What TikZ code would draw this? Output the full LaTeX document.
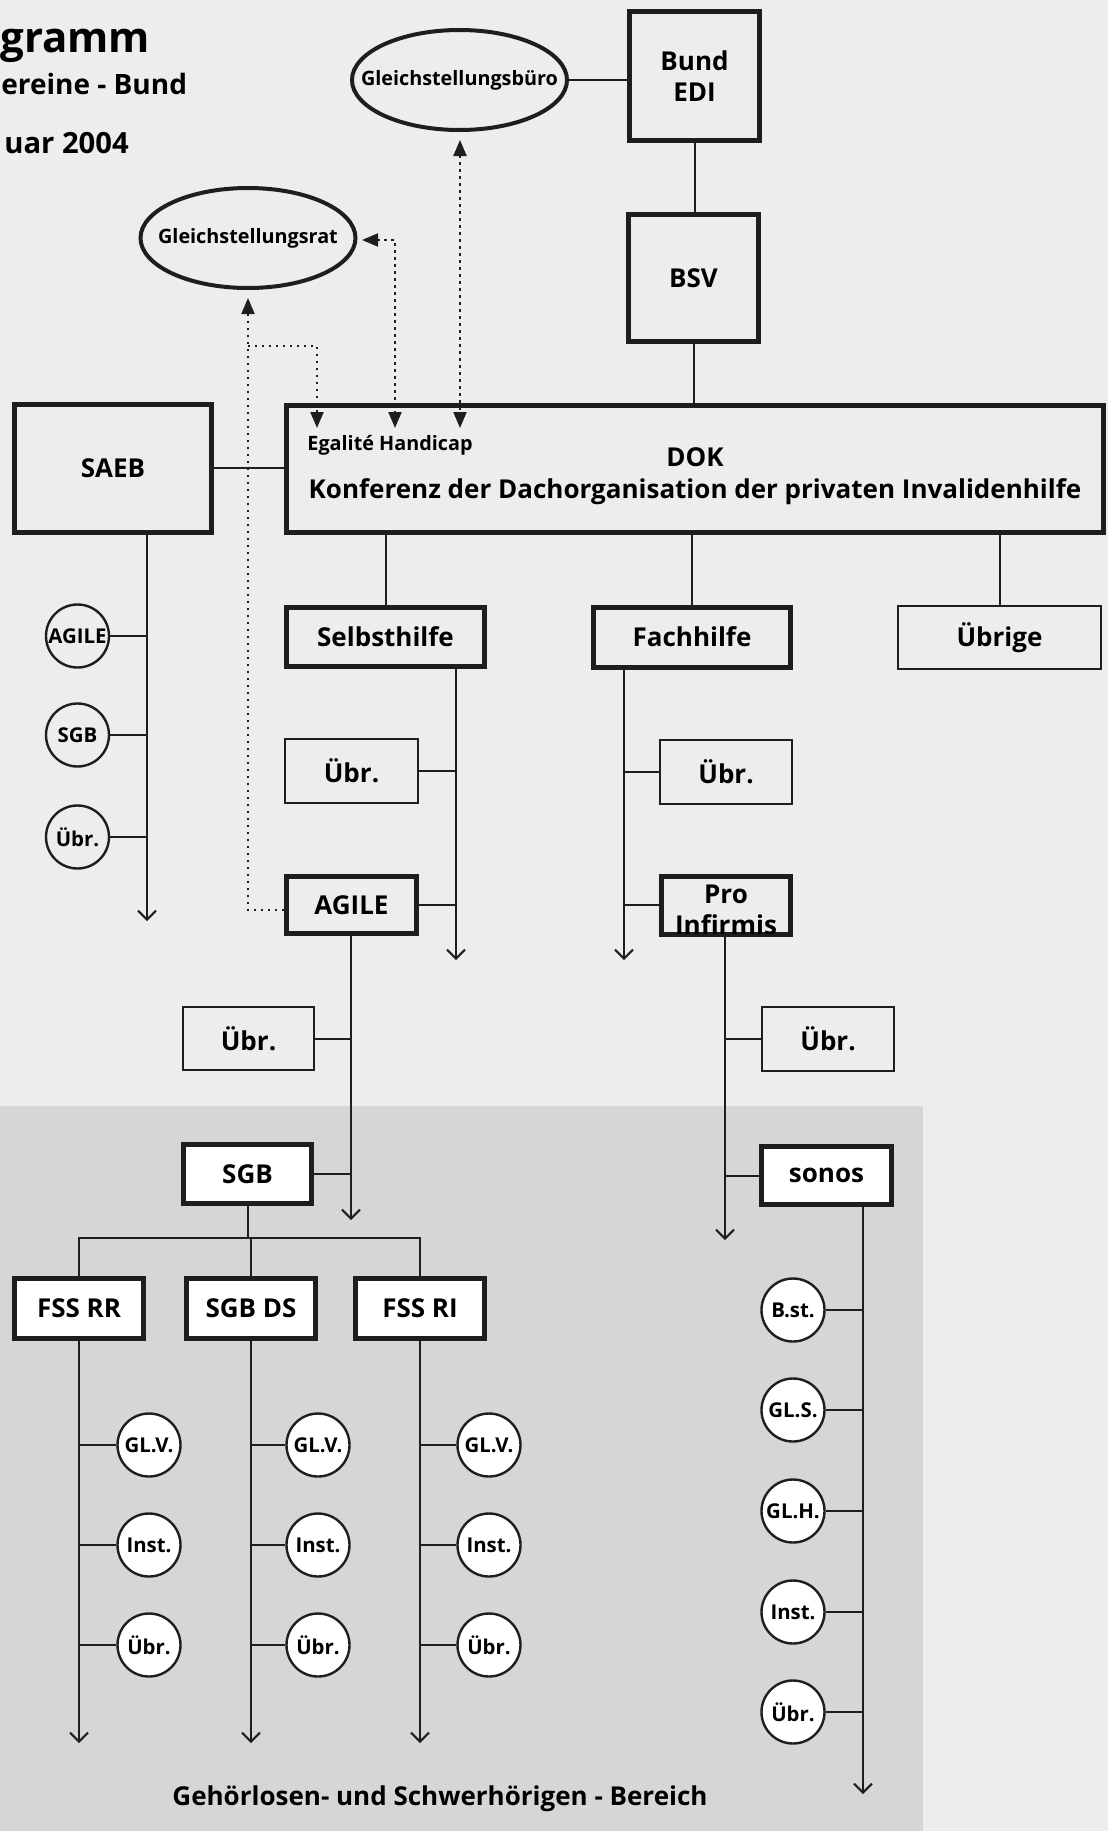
\documentclass[tikz,border=0pt]{standalone}
\usepackage{fontspec}
\setmainfont{Open Sans}
\usetikzlibrary{arrows.meta,positioning,shapes.geometric,calc}
\definecolor{paper}{HTML}{EDEDED}
\definecolor{deafgray}{HTML}{D6D6D6}
\definecolor{ink}{HTML}{1E1E1E}
\newcommand{\boxfont}{\fontsize{13}{15.6}\selectfont\bfseries}
\newcommand{\dokfont}{\fontsize{13}{16}\selectfont\bfseries}
\newcommand{\ovalfont}{\fontsize{9.9}{12}\selectfont\bfseries}
\newcommand{\ringfont}{\fontsize{10.2}{11}\selectfont\bfseries}
\newcommand{\egalfont}{\fontsize{9.9}{11}\selectfont\bfseries}
\newcommand{\areafont}{\fontsize{13}{15}\selectfont\bfseries}

\begin{document}
\begin{tikzpicture}[x=0.5pt,y=-0.5pt,
    vtip/.tip={Straight Barb[width=9pt,length=4.5pt]},
    dtip/.tip={Triangle[width=6.5pt,length=8pt]},
    thickbox/.style={draw=ink, line width=2.5pt, inner sep=0pt, align=center, font=\boxfont},
    thinbox/.style={draw=ink, line width=1pt, inner sep=0pt, align=center, font=\boxfont},
    oval/.style={ellipse, draw=ink, line width=2pt, inner sep=0pt, minimum width=107.5pt, minimum height=50pt, font=\ovalfont},
    ring/.style={circle, draw=ink, line width=1.2pt, inner sep=0pt, minimum size=31.5pt, font=\ringfont},
    link/.style={draw=ink, line width=1pt},
    dotlink/.style={draw=ink, line width=1.1pt, dash pattern=on 1.1pt off 2.4pt}]

    % paper and the grey area
    \fill[paper] (0,0) rectangle (1108,1831);
    \fill[deafgray] (0,1106) rectangle (923,1831);

    % title (cut at the left edge)
    \node[anchor=base west, inner sep=0pt, font=\fontsize{21}{24}\selectfont\bfseries] (title) at (0,52) {gramm};
    \node[anchor=base west, inner sep=0pt, font=\fontsize{14}{16}\selectfont\bfseries] (subtitle) at (1,94) {ereine - Bund};
    \node[anchor=base west, inner sep=0pt, font=\fontsize{14.6}{16}\selectfont\bfseries] (date) at (4,153) {uar 2004};

    % top level
    \node[oval] (buero) at (459.5,80) {\makebox[0pt]{Gleichstellungsbüro}};
    \node[thickbox, minimum width=65pt, minimum height=64.5pt] (bund) at (694.5,76) {Bund\\EDI};
    \node[thickbox, minimum width=65pt, minimum height=63.5pt] (bsv) at (693.5,278) {BSV};
    \node[oval] (rat) at (248,238) {\makebox[0pt]{Gleichstellungsrat}};
    \node[thickbox, minimum width=98.5pt, minimum height=64pt] (saeb) at (113,468) {SAEB};
    \node[thickbox, minimum width=408.5pt, minimum height=63.5pt,
        label={[font=\dokfont, align=center, yshift=-3.5pt]center:DOK\\Konferenz der Dachorganisation der privaten Invalidenhilfe}] (dok) at (695,469) {};
    \node[inner sep=0pt, font=\egalfont] (egal) at (390,445) {Egalité Handicap};

    \draw[link] (buero.east) -- (buero.east -| bund.west);
    \draw[link] (bund.south) -- (bund.south |- bsv.north);
    \draw[link] (bsv.south) -- (bsv.south |- dok.north);
    \draw[link] (saeb.east) -- (saeb.east -| dok.west);

    % second level
    \node[thickbox, minimum width=99pt, minimum height=29.5pt] (selbst) at (385.5,637) {Selbsthilfe};
    \node[thickbox, minimum width=98.5pt, minimum height=30pt] (fach) at (692,637) {Fachhilfe};
    \node[thinbox, minimum width=101.5pt, minimum height=31.5pt] (uebrige) at (999.5,637.5) {Übrige};
    \draw[link] (selbst.north) -- (selbst.north |- dok.south);
    \draw[link] (fach.north) -- (fach.north |- dok.south);
    \draw[link] (uebrige.north) -- (uebrige.north |- dok.south);

    \node[thinbox, minimum width=66.5pt, minimum height=32pt] (selbstUebr) at (351.5,771) {Übr.};
    \node[thickbox, minimum width=65pt, minimum height=28.5pt] (agile) at (351.5,905) {AGILE};
    \node[thinbox, minimum width=66pt, minimum height=32pt] (fachUebr) at (726,772) {Übr.};
    \node[thickbox, minimum width=64.5pt, minimum height=29pt,
        label={[font=\boxfont, align=center, yshift=-2.5pt]center:Pro\\Infirmis}] (proinf) at (726,905) {};

    \node[thinbox, minimum width=65.5pt, minimum height=31.5pt] (agileUebr) at (248.5,1038.5) {Übr.};
    \node[thickbox, fill=white, minimum width=64pt, minimum height=29.5pt] (sgb) at (247.5,1174) {SGB};
    \node[thinbox, minimum width=66pt, minimum height=32pt] (proUebr) at (828,1039) {Übr.};
    \node[thickbox, fill=white, minimum width=65pt, minimum height=29pt] (sonos) at (826.5,1175.5) {sonos};

    % open ends of the columns
    \coordinate (saebEnd) at (147,921);
    \coordinate (selbstEnd) at (456,960);
    \coordinate (fachEnd) at (624,960);
    \coordinate (agileEnd) at (351,1220);
    \coordinate (proEnd) at (725,1240);
    \coordinate (sonosEnd) at (863,1794);
    \coordinate (colEnd) at (0,1743);
    \coordinate (sgbBar) at (0,1238);

    \draw[link, -vtip] (saeb.south -| saebEnd) -- (saebEnd);
    \draw[link, -vtip] (selbst.south -| selbstEnd) -- (selbstEnd);
    \draw[link, -vtip] (fach.south -| fachEnd) -- (fachEnd);
    \draw[link, -vtip] (agile.south -| agileEnd) -- (agileEnd);
    \draw[link, -vtip] (proinf.south -| proEnd) -- (proEnd);
    \draw[link, -vtip] (sonos.south -| sonosEnd) -- (sonosEnd);

    \draw[link] (selbstUebr.east) -- (selbstUebr.east -| selbstEnd);
    \draw[link] (agile.east) -- (agile.east -| selbstEnd);
    \draw[link] (fachUebr.west) -- (fachUebr.west -| fachEnd);
    \draw[link] (proinf.west) -- (proinf.west -| fachEnd);
    \draw[link] (agileUebr.east) -- (agileUebr.east -| agileEnd);
    \draw[link] (sgb.east) -- (sgb.east -| agileEnd);
    \draw[link] (proUebr.west) -- (proUebr.west -| proEnd);
    \draw[link] (sonos.west) -- (sonos.west -| proEnd);

    % SAEB members
    \foreach \cy/\lbl/\k in {636/AGILE/a, 735/SGB/b, 837/Übr./c} {
        \node[ring] (saeb\k) at (77.5,\cy) {\makebox[0pt]{\lbl}};
        \draw[link] (saeb\k.east) -- (saeb\k.east -| saebEnd);
    }

    % SGB and its three groups
    \node[thickbox, fill=white, minimum width=64.5pt, minimum height=30pt] (fssrr) at (79,1308.5) {FSS RR};
    \node[thickbox, fill=white, minimum width=64.5pt, minimum height=30pt] (sgbds) at (251,1308.5) {SGB DS};
    \node[thickbox, fill=white, minimum width=64.5pt, minimum height=30pt] (fssri) at (420,1308.5) {FSS RI};
    \draw[link] (sgb.south) -- (sgb.south |- sgbBar);
    \draw[link] (fssrr.north) -- (fssrr.north |- sgbBar) -- (fssri.north |- sgbBar) -- (fssri.north);
    \draw[link] (sgbds.north) -- (sgbds.north |- sgbBar);

    \foreach \col/\cx in {fssrr/149, sgbds/318, fssri/489} {
        \draw[link, -vtip] (\col.south) -- (\col.south |- colEnd);
        \foreach \cy/\lbl/\k in {1445/GL.V./a, 1545/Inst./b, 1645/Übr./c} {
            \node[ring, fill=white] (\col\k) at (\cx,\cy) {\makebox[0pt]{\lbl}};
            \draw[link] (\col\k.west) -- (\col\k.west -| \col.south);
        }
    }

    % sonos members
    \foreach \cy/\lbl/\k in {1310/B.st./a, 1410/GL.S./b, 1511/GL.H./c, 1612/Inst./d, 1712/Übr./e} {
        \node[ring, fill=white] (sonos\k) at (793,\cy) {\makebox[0pt]{\lbl}};
        \draw[link] (sonos\k.east) -- (sonos\k.east -| sonosEnd);
    }

    \node[inner sep=0pt, font=\areafont] (area) at (440,1799) {Gehörlosen- und Schwerhörigen - Bereich};

    % dotted links of the Gleichstellung bodies
    \coordinate (bueroTip) at (460,140);
    \coordinate (ratTipE) at (362,240);
    \coordinate (ratTipS) at (248,298);
    \coordinate (split) at (248,346);
    \coordinate (egA) at (317,428);
    \coordinate (egB) at (395,428);
    \coordinate (egC) at (460,428);
    \draw[dotlink, dtip-dtip] (bueroTip) -- (egC);
    \draw[dotlink, dtip-dtip] (ratTipE) -| (egB);
    \draw[dotlink, -dtip] ([yshift=-2.5pt]agile.west) -| (ratTipS);
    \draw[dotlink, -dtip] (split) -| (egA);
\end{tikzpicture}
\end{document}
